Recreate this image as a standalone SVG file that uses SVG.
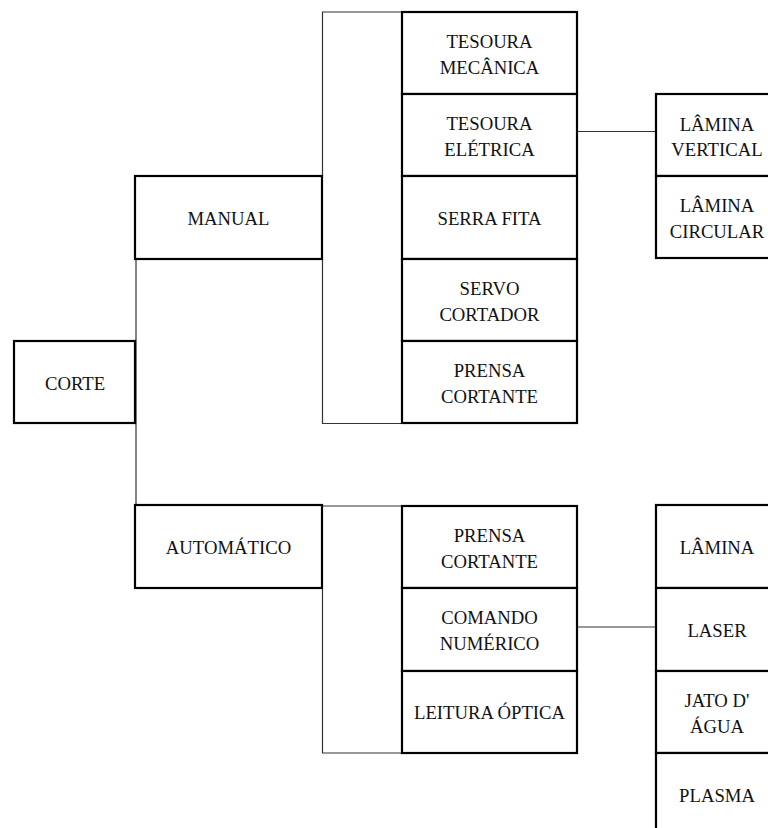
<svg xmlns="http://www.w3.org/2000/svg" width="768" height="828" viewBox="0 0 768 828" font-family="Liberation Serif, DejaVu Serif, serif" font-size="18.7">
<style>
.box{fill:#fff;stroke:#000;stroke-width:2.2}
.con{fill:none;stroke:#333;stroke-width:1.2}
text{fill:#111;text-anchor:middle}
</style>
<rect width="768" height="828" fill="#fff"/>
<g id="connectors">
<path class="con" d="M136,259 V505"/>
<path class="con" d="M322.5,259 V423.5 H402 M322.5,176 V12 H402"/>
<path class="con" d="M322.5,588 V753 H402 M322.5,505 V506 H402"/>
<path class="con" d="M577,131.5 H656"/>
<path class="con" d="M577,627 H656"/>
</g>
<g id="corte"><rect class="box" x="14" y="341" width="121" height="82"/><text x="75" y="390">CORTE</text></g>
<g id="manual"><rect class="box" x="135" y="176" width="187" height="83"/><text x="228.5" y="225">MANUAL</text></g>
<g id="automatico"><rect class="box" x="135" y="505" width="187" height="83"/><text x="228.5" y="554">AUTOMÁTICO</text></g>

<g id="tesoura-mecanica"><rect class="box" x="402" y="12" width="175" height="82"/><text x="489.5" y="48">TESOURA</text><text x="489.5" y="74">MECÂNICA</text></g>
<g id="tesoura-eletrica"><rect class="box" x="402" y="94" width="175" height="82"/><text x="489.5" y="130">TESOURA</text><text x="489.5" y="156">ELÉTRICA</text></g>
<g id="serra-fita"><rect class="box" x="402" y="176" width="175" height="83"/><text x="489.5" y="225">SERRA FITA</text></g>
<g id="servo-cortador"><rect class="box" x="402" y="259" width="175" height="82"/><text x="489.5" y="295">SERVO</text><text x="489.5" y="321">CORTADOR</text></g>
<g id="prensa-cortante-1"><rect class="box" x="402" y="341" width="175" height="82"/><text x="489.5" y="377">PRENSA</text><text x="489.5" y="403">CORTANTE</text></g>

<g id="lamina-vertical"><rect class="box" x="656" y="94" width="122" height="82"/><text x="717" y="131">LÂMINA</text><text x="717" y="156">VERTICAL</text></g>
<g id="lamina-circular"><rect class="box" x="656" y="176" width="122" height="82"/><text x="717" y="212">LÂMINA</text><text x="717" y="238">CIRCULAR</text></g>

<g id="prensa-cortante-2"><rect class="box" x="402" y="506" width="175" height="82"/><text x="489.5" y="542">PRENSA</text><text x="489.5" y="568">CORTANTE</text></g>
<g id="comando-numerico"><rect class="box" x="402" y="588" width="175" height="83"/><text x="489.5" y="624">COMANDO</text><text x="489.5" y="650">NUMÉRICO</text></g>
<g id="leitura-optica"><rect class="box" x="402" y="671" width="175" height="82"/><text x="489.5" y="719">LEITURA ÓPTICA</text></g>

<g id="lamina"><rect class="box" x="656" y="505" width="122" height="83"/><text x="717" y="554">LÂMINA</text></g>
<g id="laser"><rect class="box" x="656" y="588" width="122" height="83"/><text x="717" y="637">LASER</text></g>
<g id="jato-dagua"><rect class="box" x="656" y="671" width="122" height="82"/><text x="717" y="707">JATO D'</text><text x="717" y="733">ÁGUA</text></g>
<g id="plasma"><rect class="box" x="656" y="753" width="122" height="83"/><text x="717" y="802">PLASMA</text></g>
</svg>
